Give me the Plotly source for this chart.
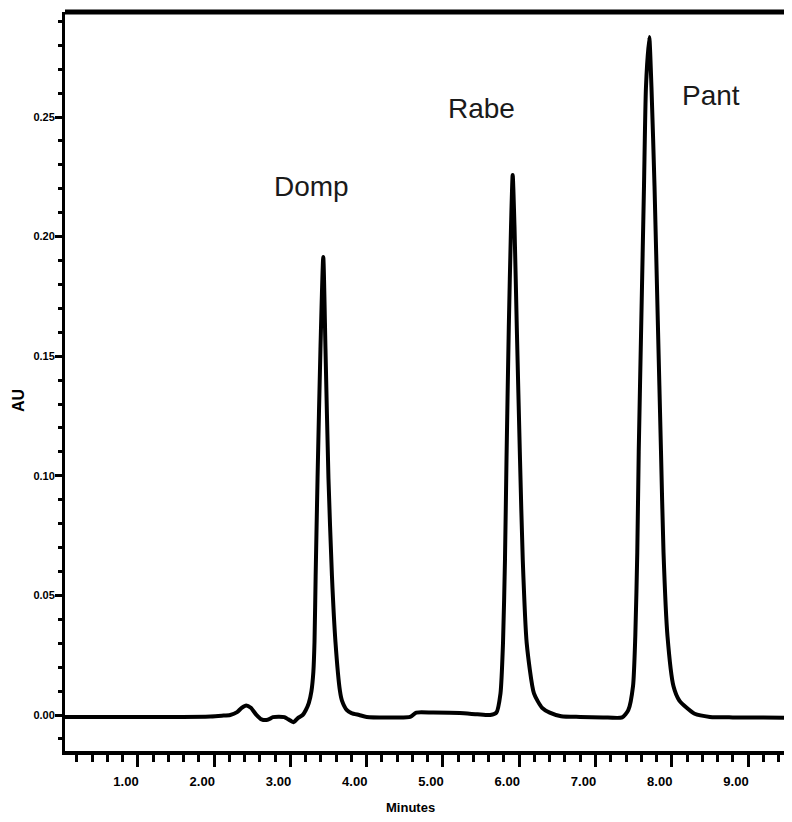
import plotly.graph_objects as go

# Chromatogram trace (minutes, AU)
time_min = [0.04, 0.5, 1.0, 1.5, 1.95, 2.10, 2.21, 2.30, 2.36, 2.42, 2.48, 2.55, 2.62, 2.70,
            2.77, 2.85, 2.92, 2.97, 3.04, 3.10, 3.16, 3.20, 3.24, 3.275, 3.30, 3.315, 3.33,
            3.355, 3.393, 3.43, 3.459, 3.498, 3.544, 3.59, 3.649, 3.675, 3.74, 3.80, 3.90,
            4.00, 4.30, 4.57, 4.65, 4.87, 5.22, 5.45, 5.62, 5.70, 5.754, 5.787, 5.813,
            5.833, 5.863, 5.892, 5.914, 5.938, 5.968, 6.010, 6.046, 6.098, 6.193, 6.30,
            6.40, 6.55, 6.80, 7.10, 7.35, 7.43, 7.492, 7.522, 7.548, 7.567, 7.601, 7.636,
            7.662, 7.705, 7.734, 7.774, 7.817, 7.859, 7.892, 7.944, 8.023, 8.10, 8.196,
            8.30, 8.50, 8.80, 9.20, 9.577]
absorbance = [-0.0008, -0.0008, -0.0008, -0.0008, -0.0006, -0.0003, 0.0, 0.0012, 0.003, 0.004,
              0.003, 0.0002, -0.0018, -0.002, -0.0009, -0.0007, -0.0009, -0.0018, -0.003,
              -0.0012, 0.0, 0.002, 0.005, 0.010, 0.018, 0.0305, 0.058, 0.099, 0.153, 0.1915,
              0.153, 0.099, 0.058, 0.0305, 0.010, 0.006, 0.002, 0.0008, 0.0, -0.0008, -0.001,
              -0.0008, 0.001, 0.001, 0.0008, 0.0003, 0.0, 0.001, 0.009, 0.030, 0.065, 0.107,
              0.162, 0.204, 0.2258, 0.204, 0.162, 0.107, 0.065, 0.030, 0.009, 0.003, 0.001,
              -0.0005, -0.0008, -0.001, -0.001, 0.002, 0.012, 0.033, 0.068, 0.110, 0.165,
              0.221, 0.2625, 0.2834, 0.2625, 0.221, 0.165, 0.110, 0.068, 0.033, 0.012, 0.006,
              0.003, 0.0005, -0.0008, -0.001, -0.001, -0.0012]

peak_names = ["Domp", "Rabe", "Pant"]
peak_label_time = [3.28, 5.51, 8.51]
peak_label_au = [0.221, 0.2535, 0.259]

x_tick_vals = [1, 2, 3, 4, 5, 6, 7, 8, 9]
x_tick_text = ["1.00", "2.00", "3.00", "4.00", "5.00", "6.00", "7.00", "8.00", "9.00"]
y_tick_vals = [0.0, 0.05, 0.10, 0.15, 0.20, 0.25]
y_tick_text = ["0.00", "0.05", "0.10", "0.15", "0.20", "0.25"]

FONT = "Liberation Sans, Arial, sans-serif"
tick_font = dict(family=FONT, size=13, color="black", weight="bold")

fig = go.Figure()
fig.add_trace(go.Scatter(x=time_min, y=absorbance, mode="lines",
                         line=dict(color="black", width=4, shape="spline", smoothing=0.6),
                         hoverinfo="skip"))

for name, tx, ty in zip(peak_names, peak_label_time, peak_label_au):
    fig.add_annotation(x=tx, y=ty, xref="x", yref="y", text=name, showarrow=False,
                       xanchor="center", yanchor="middle",
                       font=dict(family=FONT, size=28, color="#1a1a1a"))

fig.add_annotation(x=0.4746, y=-0.0771, xref="paper", yref="paper", text="Minutes", showarrow=False,
                   xanchor="center", yanchor="middle",
                   font=dict(family=FONT, size=13, color="black", weight="bold"))
fig.add_annotation(x=-0.0633, y=0.475, xref="paper", yref="paper", text="AU", showarrow=False,
                   textangle=-90, xanchor="center", yanchor="middle",
                   font=dict(family=FONT, size=16, color="black", weight="bold"))

fig.add_shape(type="line", xref="paper", yref="paper", x0=0, x1=1, y0=1, y1=1,
              line=dict(color="black", width=5))

# page body has an 8px margin, so the figure is offset by 8px
fig.update_layout(width=784, height=814, margin=dict(l=57, r=0, t=4, b=71),
                  plot_bgcolor="white", paper_bgcolor="white", showlegend=False)

fig.update_xaxes(range=[0.043, 9.577], tickmode="array", tickvals=x_tick_vals, ticktext=x_tick_text,
                 ticks="outside", ticklen=12, tickwidth=2.5, tickcolor="black", automargin=False,
                 showline=True, linecolor="black", linewidth=4, showgrid=False, zeroline=False,
                 tickfont=tick_font, ticklabelshift=-12, ticklabelstandoff=3,
                 minor=dict(tickmode="linear", tick0=0, dtick=0.2, ticks="outside", ticklen=7,
                            tickwidth=2.5, tickcolor="black", showgrid=False))
fig.update_yaxes(range=[-0.01505, 0.2939], tickmode="array", tickvals=y_tick_vals, ticktext=y_tick_text,
                 ticks="outside", ticklen=7, tickwidth=2.5, tickcolor="black", automargin=False,
                 showline=True, linecolor="black", linewidth=3, showgrid=False, zeroline=False,
                 tickfont=dict(family=FONT, size=11, color="black", weight="bold"),
                 ticklabelstandoff=-2,
                 minor=dict(tickmode="linear", tick0=0, dtick=0.01, ticks="outside", ticklen=4,
                            tickwidth=2.5, tickcolor="black", showgrid=False))

fig.write_html("out.html")
